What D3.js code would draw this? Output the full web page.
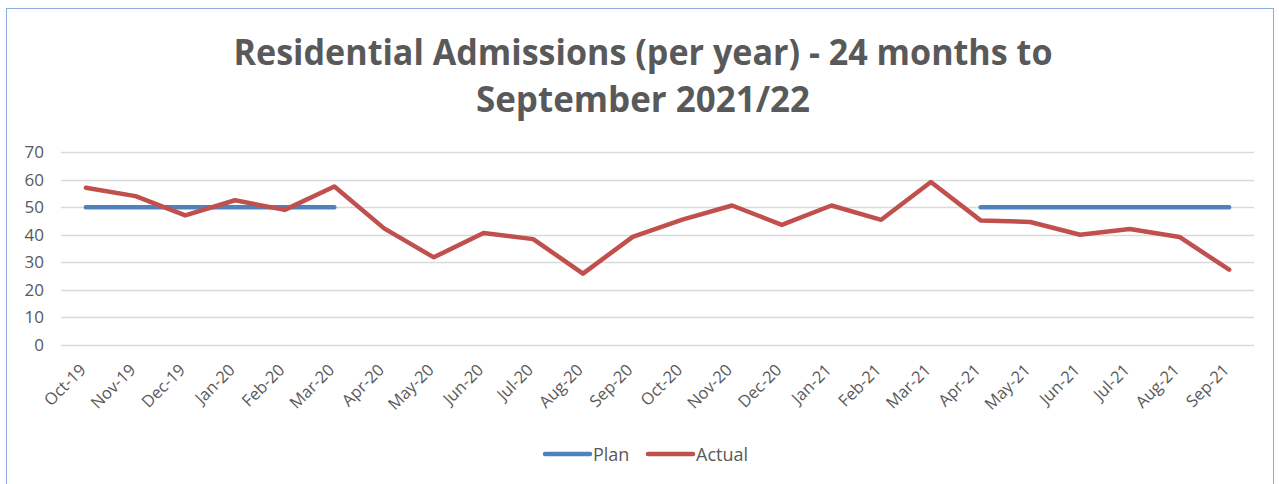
<!DOCTYPE html>
<html>
<head>
<meta charset="utf-8">
<script src="https://cdn.jsdelivr.net/npm/d3@7"></script>
<style>
  body { margin: 0; background: #fff; }
  svg { display: block; font-family: "Open Sans", "Noto Sans", sans-serif; }
</style>
</head>
<body>
<div id="chart"></div>
<script>
// chart data
const months = ["Oct-19", "Nov-19", "Dec-19", "Jan-20", "Feb-20", "Mar-20", "Apr-20", "May-20",
  "Jun-20", "Jul-20", "Aug-20", "Sep-20", "Oct-20", "Nov-20", "Dec-20", "Jan-21", "Feb-21",
  "Mar-21", "Apr-21", "May-21", "Jun-21", "Jul-21", "Aug-21", "Sep-21"];
const plan = [50, 50, 50, 50, 50, 50, null, null, null, null, null, null,
  null, null, null, null, null, null, 50, 50, 50, 50, 50, 50];
const actual = [57, 54, 47, 52.5, 49, 57.5, 42.3, 31.8, 40.6, 38.4, 25.9, 39.2,
  45.5, 50.6, 43.6, 50.6, 45.4, 59.1, 45.2, 44.6, 40, 42.1, 39.2, 27.3];
const yTicks = [0, 10, 20, 30, 40, 50, 60, 70];
const seriesNames = ["Plan", "Actual"];
const seriesColors = ["#4F81BD", "#C0504D"];
const titleLines = ["Residential Admissions (per year) - 24 months to", "September 2021/22"];

const W = 1279, H = 484;
const margin = {top: 152, right: 25, bottom: 139, left: 61};
const textColor = "#595959";

const svg = d3.select("#chart").append("svg")
  .attr("width", W).attr("height", H);

// chart frame
svg.append("rect")
  .attr("x", 6.5).attr("y", 8.5)
  .attr("width", 1267).attr("height", 490)
  .attr("fill", "none").attr("stroke", "#8FAADC").attr("stroke-width", 1);

// title
const title = svg.append("g").attr("fill", textColor)
  .attr("font-weight", 700).attr("font-size", 35).attr("text-anchor", "middle");
const titleWidths = [819, 334];
titleLines.forEach((t, i) => {
  title.append("text")
    .attr("x", 643).attr("y", 65 + i * 47)
    .attr("textLength", titleWidths[i])
    .attr("lengthAdjust", "spacingAndGlyphs")
    .text(t);
});

const x = d3.scaleBand().domain(months)
  .range([margin.left, W - margin.right]).padding(0);
const y = d3.scaleLinear().domain([0, 70])
  .range([H - margin.bottom, margin.top]);

// grid
svg.append("g")
  .selectAll("line").data(yTicks).join("line")
  .attr("x1", margin.left).attr("x2", W - margin.right)
  .attr("y1", d => Math.round(y(d)) + 0.5).attr("y2", d => Math.round(y(d)) + 0.5)
  .attr("stroke", "#D9D9D9").attr("stroke-width", 1.3);

// y axis labels
const yAxis = d3.axisLeft(y).tickValues(yTicks).tickSize(0).tickPadding(0);
svg.append("g")
  .attr("transform", `translate(${margin.left - 17},0)`)
  .call(yAxis)
  .call(g => g.select(".domain").remove())
  .call(g => g.selectAll("text")
    .attr("fill", textColor).attr("font-size", 17)
    .attr("font-family", "'Open Sans', sans-serif"));

// x axis labels, rotated
const xAxis = d3.axisBottom(x).tickSize(0).tickPadding(0);
svg.append("g")
  .attr("transform", `translate(0,${H - margin.bottom})`)
  .call(xAxis)
  .call(g => g.select(".domain").remove())
  .call(g => g.selectAll("text")
    .attr("fill", textColor).attr("font-size", 16.5)
    .attr("font-family", "'Open Sans', sans-serif")
    .attr("text-anchor", "end")
    .attr("dy", 0)
    .attr("transform", "translate(1,26) rotate(-45)"));

// lines
const line = d3.line()
  .defined(d => d != null)
  .x((d, i) => x(months[i]) + x.bandwidth() / 2)
  .y(d => y(d));

[plan, actual].forEach((s, k) => {
  svg.append("path")
    .datum(s)
    .attr("fill", "none")
    .attr("stroke", seriesColors[k])
    .attr("stroke-width", 4.5)
    .attr("stroke-linejoin", "round")
    .attr("stroke-linecap", "round")
    .attr("d", line);
});

// legend
const legendItems = [{x: 545, w: 45}, {x: 648, w: 45}];
const legend = svg.append("g").attr("font-size", 18).attr("fill", textColor);
seriesNames.forEach((n, i) => {
  const it = legendItems[i];
  legend.append("line")
    .attr("x1", it.x).attr("x2", it.x + it.w)
    .attr("y1", 454).attr("y2", 454)
    .attr("stroke", seriesColors[i]).attr("stroke-width", 4.5)
    .attr("stroke-linecap", "round");
  legend.append("text")
    .attr("x", it.x + it.w + 3).attr("y", 461)
    .text(n);
});
</script>
</body>
</html>
